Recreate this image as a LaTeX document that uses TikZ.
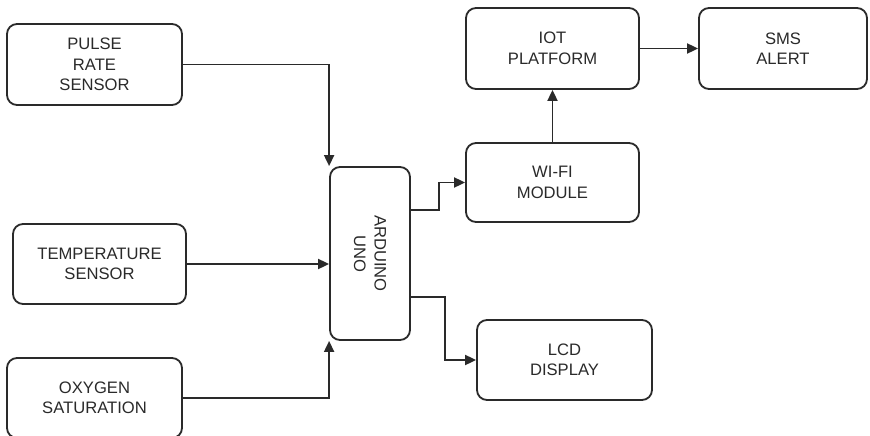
\documentclass[tikz,border=0pt]{standalone}
\usepackage{fontspec}
\setmainfont{Liberation Sans}
\usetikzlibrary{arrows.meta}
\definecolor{ink}{HTML}{2A2A2A}
\tikzset{
  box/.style={draw=ink, line width=1.8pt, rounded corners=10pt, inner sep=0pt,
    align=center, text=ink, font=\fontsize{16.6}{20.5}\selectfont},
  lbl/.style={inner sep=0pt, align=center, text=ink, font=\fontsize{16.6}{20.5}\selectfont},
  arr/.style={draw=ink, line width=1.8pt, -{Triangle[length=11pt,width=10pt]}}
}
\begin{document}
\begin{tikzpicture}[x=1pt,y=-1pt]
\useasboundingbox[fill=white] (0,0) rectangle (870,436);
\node[box, minimum width=175pt, minimum height=81pt] (pulse) at (94.5,64.5) {PULSE\\RATE\\SENSOR};
\node[box, minimum width=173pt, minimum height=80pt] (temp) at (99.5,264) {TEMPERATURE\\SENSOR};
\node[box, minimum width=175pt, minimum height=80pt] (oxy) at (94.5,398) {OXYGEN\\SATURATION};
\node[box, minimum width=80pt, minimum height=173pt] (ard) at (370,253.5) {};
\node[lbl, rotate=-90] (ardtext) at (ard.center) {ARDUINO\\UNO};
\node[box, minimum width=173pt, minimum height=79pt] (wifi) at (552.5,182.5) {WI-FI\\MODULE};
\node[box, minimum width=173pt, minimum height=81pt] (iot) at (552.5,48.5) {IOT\\PLATFORM};
\node[box, minimum width=168pt, minimum height=81pt] (sms) at (783,48.5) {SMS\\ALERT};
\node[box, minimum width=175pt, minimum height=80pt] (lcd) at (564.5,360) {LCD\\DISPLAY};

\draw[arr] (pulse.east) -| (ard.north west);
\draw[arr] (temp.east) -- (temp.east -| ard.west);
\draw[arr] (oxy.east) -| (ard.south west);
\draw[arr] ([yshift=43.5pt]ard.east) -- ++(28,0) |- (wifi.west);
\draw[arr] ([yshift=-43.5pt]ard.east) -- ++(34,0) |- (lcd.west);
\draw[arr] (wifi.north) -- (iot.south);
\draw[arr] (iot.east) -- (sms.west);
\end{tikzpicture}
\end{document}
